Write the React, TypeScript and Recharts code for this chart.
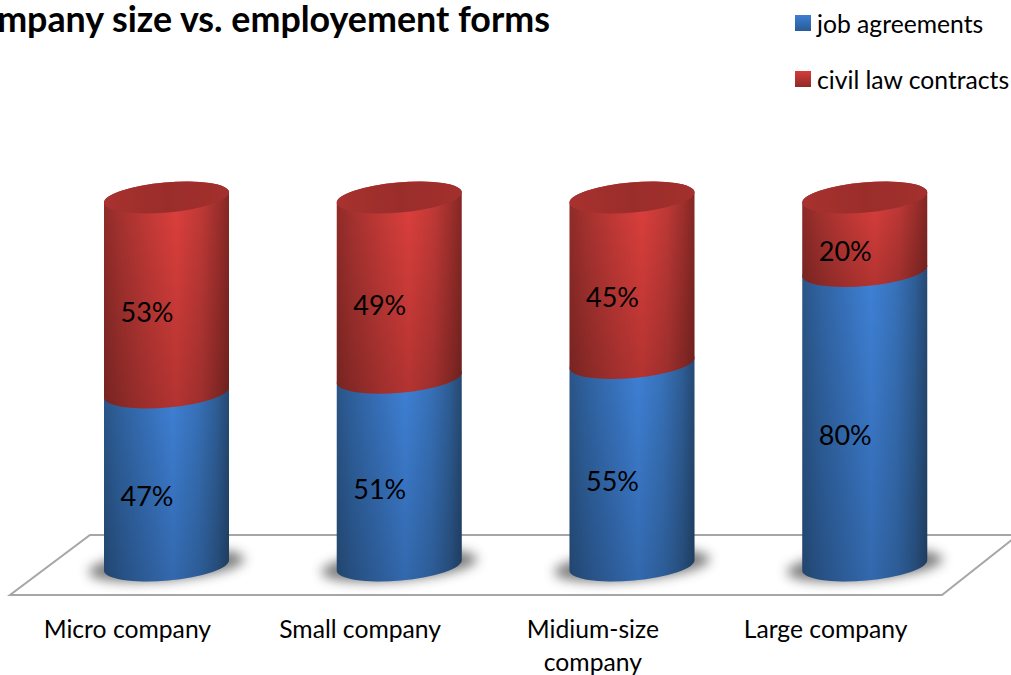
import React from "react";
import { BarChart, Bar, XAxis, YAxis, LabelList, Legend, Customized } from "recharts";

const categories = ["Micro company", "Small company", "Midium-size company", "Large company"];
const jobAgreements = [47, 51, 55, 80];
const civilLawContracts = [53, 49, 45, 20];
const tickLines: Record<string, string[]> = {
  "Midium-size company": ["Midium-size", "company"],
};
const seriesNames = ["job agreements", "civil law contracts"];
const chartTitle = "Company size vs. employement forms";

const rows = categories.map((name, i) => ({
  name,
  job: jobAgreements[i],
  civil: civilLawContracts[i],
}));

const FONT = "Lato, 'Noto Sans', sans-serif";
const TILT_DY = 5.5;
const RY = 15;

function sidePath(x: number, y: number, w: number, h: number) {
  const rx = Math.hypot(w / 2, TILT_DY);
  const arc = `A ${rx} ${RY} -5 0 0`;
  const r = x + w;
  const b = y + h;
  return [
    `M ${x} ${y + TILT_DY}`,
    `L ${x} ${b + TILT_DY}`,
    `${arc} ${r} ${b - TILT_DY}`,
    `L ${r} ${y - TILT_DY}`,
    `${arc} ${x} ${y + TILT_DY}`,
    "Z",
  ].join(" ");
}

function BlueSegment(props: any) {
  const { x, y, width, height } = props;
  const cx = x + width / 2;
  const base = y + height;
  const d = sidePath(x, y, width, height);
  return (
    <g>
      <ellipse
        cx={cx}
        cy={base}
        rx={78}
        ry={15}
        fill="#4a4a4a"
        opacity={0.72}
        filter="url(#cylShadow)"
        transform={`rotate(-5 ${cx} ${base})`}
      />
      <path d={d} fill="url(#blueSide)" />
      <path d={d} fill="url(#sideFade)" />
    </g>
  );
}

function RedSegment(props: any) {
  const { x, y, width, height } = props;
  const cx = x + width / 2;
  const d = sidePath(x, y, width, height);
  const rx = Math.hypot(width / 2, TILT_DY);
  return (
    <g>
      <path d={d} fill="url(#redSide)" />
      <path d={d} fill="url(#sideFade)" />
      <ellipse cx={cx} cy={y} rx={rx} ry={RY} fill="url(#redCap)" transform={`rotate(-5 ${cx} ${y})`} />
    </g>
  );
}

function PercentLabel(props: any) {
  const { x, y, width, height, value } = props;
  return (
    <text
      x={x + width / 2 - 19.5}
      y={y + height / 2 + 27}
      textAnchor="middle"
      fontFamily={FONT}
      fontSize={27}
      fill="#000"
    >
      {value}%
    </text>
  );
}

function CategoryTick(props: any) {
  const { x, y, payload } = props;
  const lines = tickLines[payload.value] ?? [payload.value];
  return (
    <g>
      {lines.map((line: string, i: number) => (
        <text
          key={line}
          x={x - 39}
          y={y + 64 + i * 33}
          textAnchor="middle"
          fontFamily={FONT}
          fontSize={24.7}
          fill="#000"
        >
          {line}
        </text>
      ))}
    </g>
  );
}

function Floor() {
  return (
    <g>
      <polygon points="10,595 942,595 1018,535 90,535" fill="#fff" stroke="#a6a6a6" strokeWidth={2} />
      <text
        x={550}
        y={32}
        textAnchor="end"
        fontFamily={FONT}
        fontWeight={700}
        fontSize={35.8}
        fill="#000"
      >
        {chartTitle}
      </text>
    </g>
  );
}

function LegendBox() {
  const swatches = ["url(#blueSwatch)", "url(#redSwatch)"];
  return (
    <div style={{ position: "relative", width: 216, height: 100 }}>
      {seriesNames.map((name, i) => (
        <div
          key={name}
          style={{
            position: "absolute",
            left: 0,
            top: i * 56,
            height: 24,
            display: "flex",
            alignItems: "center",
            whiteSpace: "nowrap",
            fontFamily: FONT,
            fontSize: 24.7,
            color: "#000",
          }}
        >
          <svg width={16} height={16} style={{ marginRight: 6 }}>
            <rect width={16} height={16} fill={swatches[i]} />
          </svg>
          {name}
        </div>
      ))}
    </div>
  );
}

export default function App() {
  return (
    <div style={{ position: "absolute", left: 0, top: 0 }}>
      <BarChart
        width={1011}
        height={675}
        data={rows}
        barSize={125}
        margin={{ top: 197.5, right: 30, bottom: 49.5, left: 50 }}
      >
        <defs>
          <linearGradient id="blueSide" x1="0" y1="0" x2="1" y2="0">
            <stop offset="0" stopColor="#2b5688" />
            <stop offset="0.12" stopColor="#2f62a0" />
            <stop offset="0.35" stopColor="#3873be" />
            <stop offset="0.55" stopColor="#3f82d8" />
            <stop offset="0.75" stopColor="#3873bc" />
            <stop offset="0.9" stopColor="#2f5f98" />
            <stop offset="1" stopColor="#264a74" />
          </linearGradient>
          <linearGradient id="redSide" x1="0" y1="0" x2="1" y2="0">
            <stop offset="0" stopColor="#932c29" />
            <stop offset="0.14" stopColor="#a93330" />
            <stop offset="0.38" stopColor="#c93b38" />
            <stop offset="0.58" stopColor="#df403d" />
            <stop offset="0.78" stopColor="#c23a37" />
            <stop offset="0.92" stopColor="#9e2f2c" />
            <stop offset="1" stopColor="#862825" />
          </linearGradient>
          <linearGradient id="redCap" x1="0" y1="0" x2="1" y2="0">
            <stop offset="0" stopColor="#a8322f" />
            <stop offset="0.5" stopColor="#9a2d2a" />
            <stop offset="1" stopColor="#a3302d" />
          </linearGradient>
          <linearGradient id="sideFade" x1="0" y1="0" x2="0" y2="1">
            <stop offset="0" stopColor="#000" stopOpacity={0} />
            <stop offset="1" stopColor="#000" stopOpacity={0.2} />
          </linearGradient>
          <linearGradient id="blueSwatch" x1="0" y1="0" x2="0" y2="1">
            <stop offset="0" stopColor="#3d7fd2" />
            <stop offset="1" stopColor="#285a98" />
          </linearGradient>
          <linearGradient id="redSwatch" x1="0" y1="0" x2="0" y2="1">
            <stop offset="0" stopColor="#d63c39" />
            <stop offset="1" stopColor="#8e2a27" />
          </linearGradient>
          <filter id="cylShadow" x="-30%" y="-100%" width="160%" height="300%">
            <feGaussianBlur stdDeviation="6" />
          </filter>
        </defs>
        <Customized component={Floor} />
        <XAxis
          dataKey="name"
          interval={0}
          height={60}
          axisLine={false}
          tickLine={false}
          tick={<CategoryTick />}
        />
        <YAxis hide domain={[0, 100]} />
        <Legend
          layout="vertical"
          align="center"
          verticalAlign="middle"
          wrapperStyle={{ left: 795, top: 11, width: 216, height: 100 }}
          content={<LegendBox />}
        />
        <Bar dataKey="job" stackId="forms" isAnimationActive={false} shape={<BlueSegment />}>
          <LabelList dataKey="job" content={<PercentLabel />} />
        </Bar>
        <Bar dataKey="civil" stackId="forms" isAnimationActive={false} shape={<RedSegment />}>
          <LabelList dataKey="civil" content={<PercentLabel />} />
        </Bar>
      </BarChart>
    </div>
  );
}
